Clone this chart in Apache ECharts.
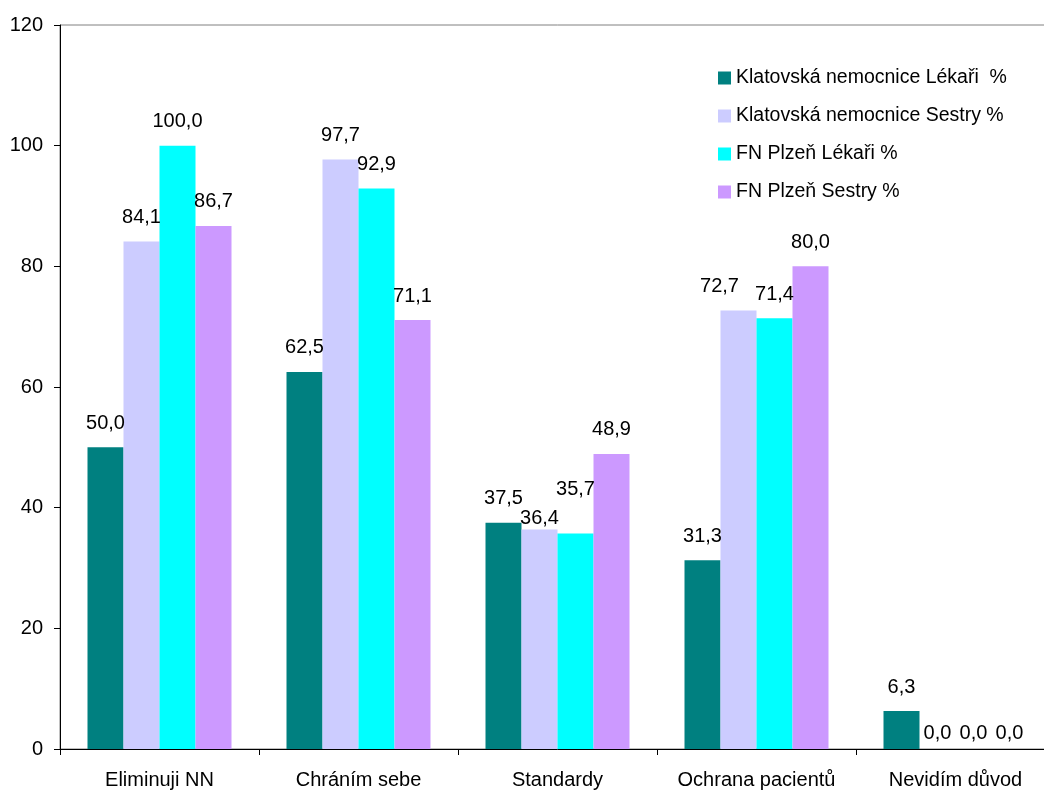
<!DOCTYPE html>
<html>
<head>
<meta charset="utf-8">
<script src="https://cdn.jsdelivr.net/npm/echarts@6/dist/echarts.min.js"></script>
<style>
  html, body { margin: 0; padding: 0; background: #fff; overflow: hidden; }
  /* the plot runs a little past the right edge of the window */
  #chart { width: 1055px; height: 792px; }
</style>
</head>
<body>
<div id="chart"></div>
<script>
// Reasons given for hand hygiene, by hospital and profession (%)
const categories = ['Eliminuji NN', 'Chráním sebe', 'Standardy', 'Ochrana pacientů', 'Nevidím důvod'];
const seriesNames = [
  'Klatovská nemocnice Lékaři  %',
  'Klatovská nemocnice Sestry %',
  'FN Plzeň Lékaři %',
  'FN Plzeň Sestry %'
];
const klatovyLekari = [50.0, 62.5, 37.5, 31.3, 6.3];
const klatovySestry = [84.1, 97.7, 36.4, 72.7, 0.0];
const plzenLekari   = [100.0, 92.9, 35.7, 71.4, 0.0];
const plzenSestry   = [86.7, 71.1, 48.9, 80.0, 0.0];
const yTicks = [0, 20, 40, 60, 80, 100, 120];

const colors = ['#008080', '#CCCCFF', '#00FFFF', '#CC99FF'];
const font = 'Liberation Sans, Arial, sans-serif';

// Nudges for a few crowded value labels: "series,category" -> [dx, dy]
const labelNudge = {
  '1,2': [0, 13], '2,2': [0, -20], '1,3': [-19, 0],
  '1,4': [0, 8], '2,4': [0, 8], '3,4': [0, 8]
};

const allValues = [klatovyLekari, klatovySestry, plzenLekari, plzenSestry];

const series = allValues.map((vals, si) => ({
  name: seriesNames[si],
  type: 'bar',
  barWidth: 36,
  barGap: '0%',
  itemStyle: { color: colors[si] },
  label: {
    show: true,
    position: 'top',
    distance: 14,
    color: '#000',
    fontFamily: font,
    fontSize: 20,
    formatter: p => p.value.toFixed(1).replace('.', ',')
  },
  data: vals.map((v, ci) => {
    const n = labelNudge[si + ',' + ci];
    return n ? { value: v, label: { offset: n } } : v;
  })
}));

const chart = echarts.init(document.getElementById('chart'), null, { renderer: 'canvas' });
chart.setOption({
  animation: false,
  backgroundColor: '#fff',
  grid: {
    left: 60, top: 25, right: 0, bottom: 43,
    show: true, borderColor: '#808080', borderWidth: 1, backgroundColor: 'transparent'
  },
  legend: {
    orient: 'vertical',
    left: 718, top: 67,
    padding: 0,
    itemWidth: 13, itemHeight: 13,
    itemGap: 16,
    icon: 'rect',
    data: seriesNames,
    textStyle: { fontFamily: font, fontSize: 19.5, color: '#000', lineHeight: 22 }
  },
  xAxis: {
    type: 'category',
    data: categories,
    axisLine: { lineStyle: { color: '#000', width: 1 } },
    axisTick: { show: true, length: 6, interval: 0, alignWithLabel: false, lineStyle: { color: '#000' } },
    axisLabel: { interval: 0, fontFamily: font, fontSize: 20, color: '#000', margin: 21 },
    splitLine: { show: false }
  },
  yAxis: {
    type: 'value',
    min: yTicks[0],
    max: yTicks[yTicks.length - 1],
    interval: yTicks[1] - yTicks[0],
    axisLine: { show: true, lineStyle: { color: '#000', width: 1 } },
    axisTick: { show: true, length: 6, lineStyle: { color: '#000' } },
    axisLabel: { fontFamily: font, fontSize: 20, color: '#000', margin: 17 },
    splitLine: { show: false }
  },
  series: series
});
</script>
</body>
</html>
